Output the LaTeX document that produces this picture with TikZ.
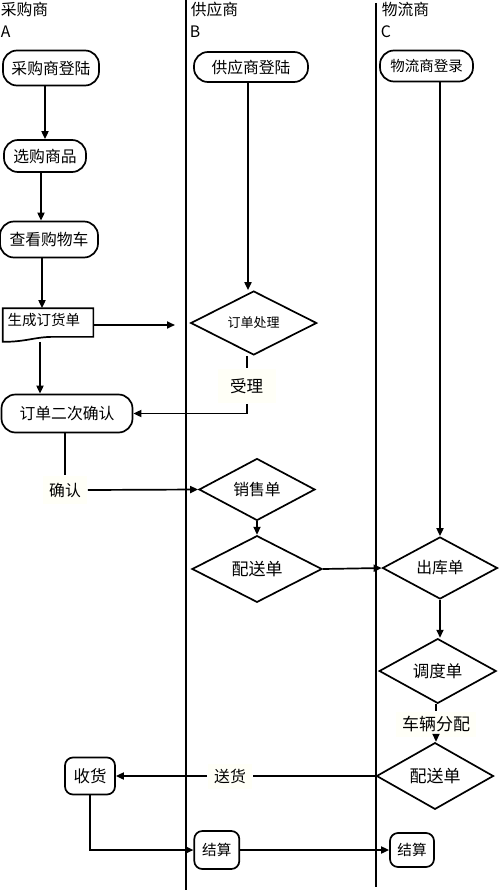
\documentclass[tikz,border=0pt]{standalone}
\usepackage{fontspec}
\setmainfont{Noto Sans CJK SC}
\usetikzlibrary{shapes.geometric,arrows.meta}

\begin{document}
\begin{tikzpicture}[x=1pt,y=-1pt,line width=1.7pt,
    font=\fontsize{15.8}{18}\selectfont,
    >={Triangle[length=8pt,width=7pt]},
    stad/.style={draw,rounded corners=14pt,inner sep=1pt},
    rbox/.style={draw,rounded corners=8pt,inner sep=1pt},
    diam/.style={diamond,draw,inner sep=0pt},
    lbl/.style={fill=yellow!3,inner sep=2pt}]
  \useasboundingbox (0,0) rectangle (500,891);
  % lanes
  \draw[line width=2pt] (185.7,0) -- (185.7,890);
  \draw[line width=2pt] (376,3) -- (376,887);
  \node[anchor=north west,inner sep=0pt] (hA) at (0,1) {采购商};
  \node[anchor=west,inner sep=0pt] (lA) at (0,32) {A};
  \node[anchor=north west,inner sep=0pt] (hB) at (190,1) {供应商};
  \node[anchor=west,inner sep=0pt] (lB) at (189,32) {B};
  \node[anchor=north west,inner sep=0pt] (hC) at (381,1) {物流商};
  \node[anchor=west,inner sep=0pt] (lC) at (380,32) {C};

  % A
  \node[stad,minimum width=96pt,minimum height=35pt] (cgdl) at (51,68) {采购商登陆};
  \node[stad,minimum width=82pt,minimum height=32pt] (xgsp) at (45,156) {选购商品};
  \node[stad,minimum width=98pt,minimum height=36pt] (ckgwc) at (49,239.5) {查看购物车};
  \node[minimum width=89pt,minimum height=32pt,inner sep=0pt,
    label={[font=\fontsize{14.5}{16}\selectfont,xshift=-4pt,yshift=5pt]center:生成订货单}] (scdhd) at (48,325) {};
  \draw (scdhd.north west) -- (scdhd.north east) -- ([yshift=5pt]scdhd.south east)
    -- ([xshift=-40pt,yshift=5pt]scdhd.south east)
    .. controls ([xshift=32pt,yshift=5pt]scdhd.south west) and ([xshift=24pt]scdhd.south west) .. (scdhd.south west) -- cycle;
  \coordinate (dhend) at (175,325);
  \node[stad,minimum width=131pt,minimum height=38pt] (ddecqr) at (67,413.5) {订单二次确认};
  \node[lbl,minimum width=44pt,minimum height=28pt] (qr) at (65,490) {确认};
  \node[rbox,minimum width=50pt,minimum height=37pt,font=\fontsize{16.5}{19}\selectfont] (sh) at (90,776) {收货};

  % B
  \node[stad,minimum width=114pt,minimum height=30pt] (gydl) at (251,67) {供应商登陆};
  \node[diam,minimum width=126pt,minimum height=54pt,font=\fontsize{13}{15}\selectfont] (ddcl) at (253.7,323) {订单处理};
  \node[lbl,minimum width=58pt,minimum height=34pt,font=\fontsize{16.5}{19}\selectfont] (sl) at (246.7,386) {受理};
  \node[diam,minimum width=116pt,minimum height=43pt] (xsd) at (257,489.5) {销售单};
  \node[diam,minimum width=130pt,minimum height=48pt,font=\fontsize{17}{20}\selectfont] (psdb) at (257,569) {配送单};
  \node[rbox,minimum width=45pt,minimum height=38pt,font=\fontsize{14.6}{17}\selectfont] (jsb) at (216.8,850) {结算};

  % C
  \node[stad,minimum width=93pt,minimum height=31pt,font=\fontsize{14.5}{16}\selectfont] (wldl) at (426.5,66) {物流商登录};
  \node[diam,minimum width=115pt,minimum height=56pt] (ckd) at (440,568) {出库单};
  \node[diam,minimum width=117pt,minimum height=43pt,font=\fontsize{16.5}{19}\selectfont] (ddd) at (437.7,671) {调度单};
  \node[lbl,minimum width=80pt,minimum height=25pt,font=\fontsize{17}{20}\selectfont] (clfp) at (436,724) {车辆分配};
  \node[diam,minimum width=117pt,minimum height=43pt,font=\fontsize{17}{20}\selectfont] (psdc) at (435,776) {配送单};
  \node[rbox,minimum width=44pt,minimum height=34pt,font=\fontsize{14.6}{17}\selectfont] (jsc) at (412,850) {结算};
  \node[lbl,minimum width=44pt,minimum height=25pt] (songh) at (230,776) {送货};

  % flow
  \draw[->] (xgsp.north |- cgdl.south) -- (xgsp.north);
  \draw[->] ([xshift=-4pt]xgsp.south) -- ([xshift=-4pt]xgsp.south |- ckgwc.north);
  \draw[->] ([xshift=-7pt]ckgwc.south) -- ([xshift=-7pt]ckgwc.south |- scdhd.north);
  \draw[->] (scdhd.east) -- (dhend);
  \draw[->] ([xshift=-8pt]scdhd.south) -- ([xshift=-8pt]scdhd.south |- ddecqr.north);
  \draw[->] ([xshift=-3pt]gydl.south) -- ([xshift=-3pt]gydl.south |- ddcl.north);
  \draw (sl |- ddcl.south) -- (sl.north);
  \draw[->] (sl.south) |- (ddecqr.east);
  \draw (ddecqr.south -| qr) -- (qr.north);
  \draw[->] (qr.east) -- (xsd.west);
  \draw[->] (xsd.south) -- (psdb.north);
  \draw[->] (psdb.east) -- (ckd.west);
  \draw[->] (wldl.south -| ckd) -- (ckd.north);
  \draw[->] (ckd.south) -- (ckd.south |- ddd.north);
  \draw (ddd.south -| clfp) -- (clfp.north);
  \draw[->] (clfp.south) -- (clfp.south |- psdc.north);
  \draw (psdc.west) -- (songh.east);
  \draw[->] (songh.west) -- (sh.east);
  \draw[->] (sh.south) |- (jsb.west);
  \draw[->] (jsb.east) -- (jsc.west);
\end{tikzpicture}
\end{document}
